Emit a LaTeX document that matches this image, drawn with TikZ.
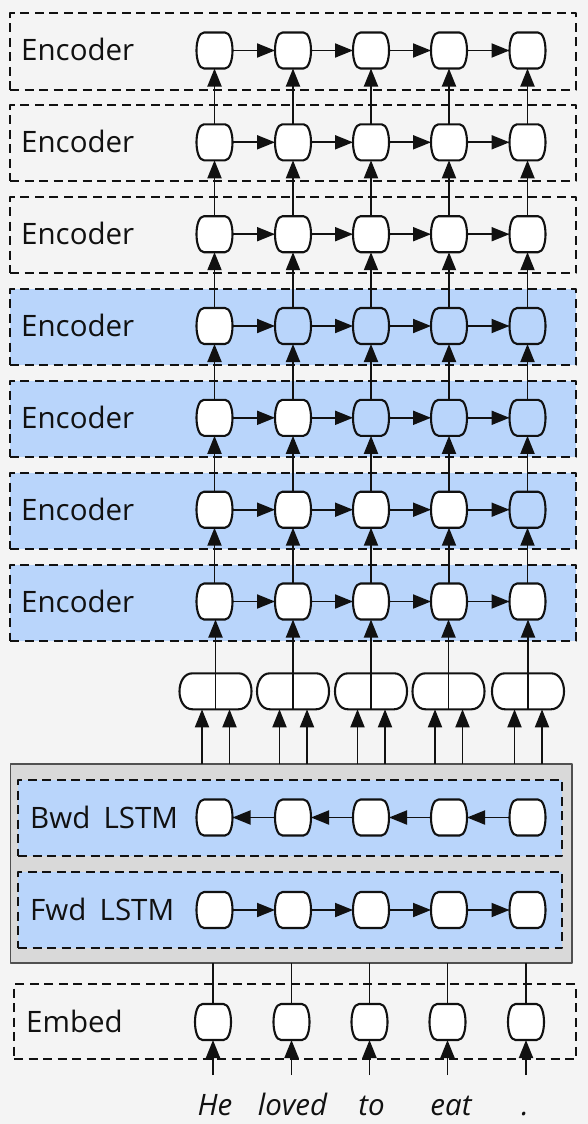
\documentclass[tikz,border=0pt]{standalone}
\usepackage{fontspec}
\setmainfont{Open Sans}
\usetikzlibrary{arrows.meta,calc}
\definecolor{bgc}{HTML}{F4F4F4}
\definecolor{bluef}{HTML}{B9D5FB}
\definecolor{grayf}{HTML}{D9D9D9}
\definecolor{grayd}{HTML}{505050}
\definecolor{ink}{HTML}{111111}
\newcommand{\barrelshape}[6]{%
  \draw[cellline, fill=#6, shift={(#1.center)}]
    ({-#2+#4},{-#3}) -- ({#2-#4},{-#3})
    .. controls ({#2+#5},{-#3}) and ({#2+#5},{#3}) .. ({#2-#4},{#3})
    -- ({-#2+#4},{#3})
    .. controls ({-#2-#5},{#3}) and ({-#2-#5},{-#3}) .. ({-#2+#4},{-#3}) -- cycle;}
\begin{document}
\begin{tikzpicture}[x=1pt,y=-1pt,line join=round,
  cellnode/.style={minimum width=36pt,minimum height=36pt,inner sep=0pt,outer sep=0pt},
  catnode/.style={minimum width=72pt,minimum height=36pt,inner sep=0pt,outer sep=0pt},
  cellline/.style={line width=2.1pt,draw=ink},
  arr/.style={line width=1.9pt,draw=ink,-{Triangle[length=18pt,width=14pt]}},
  plainline/.style={line width=1.9pt,draw=ink},
  dbox/.style={draw=ink,line width=2pt,dash pattern=on 9pt off 5.5pt,inner sep=0pt,outer sep=0pt},
  lbl/.style={font=\fontsize{29.5}{34}\selectfont,text=ink,anchor=base west,inner sep=0pt},
  word/.style={font=\fontsize{29.5}{34}\selectfont\itshape,text=ink,anchor=base,inner sep=0pt}]
\useasboundingbox (0,0) rectangle (588,1124);
\fill[bgc] (0,0) rectangle (588,1124);
% encoder layers
\foreach \r/\yy/\bf/\fa/\fb/\fc/\fd/\fe in {
  1/50.5/bgc/white/white/white/white/white,
  2/142.3/bgc/white/white/white/white/white,
  3/234.2/bgc/white/white/white/white/white,
  4/326/bluef/white/bluef/bluef/bluef/bluef,
  5/417.8/bluef/white/white/bluef/bluef/bluef,
  6/509.7/bluef/white/white/white/white/bluef,
  7/601.5/bluef/white/white/white/white/white}{
  \node[dbox,fill=\bf,minimum width=566pt,minimum height=76pt] (encbox\r) at (293,{\yy+1}) {};
  \node[lbl] (enc\r) at (21,{\yy+10.5}) {Encoder};
  \foreach \c/\xx/\ff in {1/214.5/\fa,2/293/\fb,3/371/\fc,4/449/\fd,5/527.5/\fe}{
    \node[cellnode] (e\r-\c) at (\xx,\yy) {};
    \barrelshape{e\r-\c}{18}{18}{7.5}{2.5}{\ff}
  }
}
% horizontal arrows in encoders
\foreach \r in {1,...,7}{
  \foreach \c/\n in {1/2,2/3,3/4,4/5}{
    \draw[arr] (e\r-\c.east) -- (e\r-\n.west);
  }
}
% vertical arrows between encoders
\foreach \r/\p in {2/1,3/2,4/3,5/4,6/5,7/6}{
  \foreach \c in {1,...,5}{
    \draw[arr] (e\r-\c.north) -- (e\p-\c.south);
  }
}
% BiLSTM block
\node[draw=grayd,fill=grayf,line width=1.8pt,minimum width=561.5pt,minimum height=199pt,inner sep=0pt,outer sep=0pt] (gbox) at (291.25,863.5) {};
\node[dbox,fill=bluef,minimum width=544pt,minimum height=76pt] (bwdbox) at (290,818) {};
\node[dbox,fill=bluef,minimum width=544pt,minimum height=76pt] (fwdbox) at (290,910) {};
\node[lbl] (bwdlbl) at (30,828) {Bwd\hspace{0.45em}LSTM};
\node[lbl] (fwdlbl) at (30,920.5) {Fwd\hspace{0.45em}LSTM};
\foreach \c/\xx in {1/214.5,2/293,3/371,4/449,5/527.5}{
  \node[cellnode] (b\c) at (\xx,817.5) {};
  \barrelshape{b\c}{18}{18}{7.5}{2.5}{white}
  \node[cellnode] (f\c) at (\xx,910) {};
  \barrelshape{f\c}{18}{18}{7.5}{2.5}{white}
}
\foreach \c/\n in {1/2,2/3,3/4,4/5}{
  \draw[arr] (b\n.west) -- (b\c.east);
  \draw[arr] (f\c.east) -- (f\n.west);
}
% concatenation nodes
\foreach \c/\xx in {1/215.5,2/293,3/371,4/448.5,5/528}{
  \node[catnode] (cat\c) at (\xx,691.3) {};
  \barrelshape{cat\c}{36}{18}{13}{4.33}{white}
  \draw[plainline] (cat\c.north) -- (cat\c.south);
  \draw[arr] (cat\c.north) -- (cat\c.north |- e7-\c.south);
  \coordinate (gl\c) at ({\xx-13.5},764);
  \coordinate (gr\c) at ({\xx+14},764);
  \draw[arr] (gl\c) -- (gl\c |- cat\c.south);
  \draw[arr] (gr\c) -- (gr\c |- cat\c.south);
}
% embedding layer
\node[dbox,fill=bgc,minimum width=562pt,minimum height=75pt] (embbox) at (295,1021.5) {};
\node[lbl] (emblbl) at (26,1032) {Embed};
\foreach \c/\xx/\ww/\wx in {1/213/He/215,2/291.5/loved/292.5,3/369.5/to/371.5,4/447.5/eat/451,5/526/./525}{
  \node[cellnode] (m\c) at (\xx,1022) {};
  \barrelshape{m\c}{18}{18}{7.5}{2.5}{white}
  \draw[plainline] (m\c.north) -- (m\c.north |- gbox.south);
  \coordinate (w\c) at (\xx,1075);
  \draw[arr] (w\c) -- (m\c.south);
  \node[word] (t\c) at (\wx,1115) {\ww};
}
\end{tikzpicture}
\end{document}
